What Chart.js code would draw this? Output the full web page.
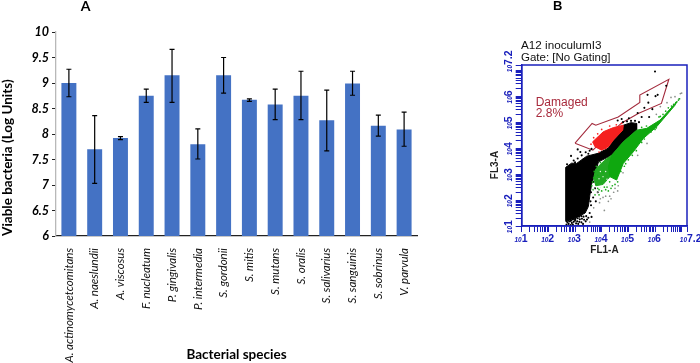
<!DOCTYPE html>
<html><head><meta charset="utf-8">
<style>html,body{margin:0;padding:0;background:#fff;width:700px;height:363px;overflow:hidden}
.wrap{position:absolute;top:0;height:363px}canvas{display:block}</style>
<script src="https://cdn.jsdelivr.net/npm/chart.js@4"></script></head>
<body>
<div class="wrap" style="left:0;width:440px"><canvas id="a" width="440" height="363"></canvas></div>
<div class="wrap" style="left:480px;width:220px"><canvas id="b" width="220" height="363"></canvas></div>
<script>
// Panel A
const species=['A. actinomycetcomitans','A. naeslundii','A. viscosus','F. nucleatum','P. gingivalis','P. intermedia','S. gordonii','S. mitis','S. mutans','S. oralis','S. salivarius','S. sanguinis','S. sobrinus','V. parvula'];
const viable=[9.0,7.7,7.92,8.75,9.15,7.8,9.15,8.67,8.58,8.75,8.27,8.99,8.16,8.09];
const errHigh=[9.27,8.36,7.95,8.88,9.66,8.1,9.5,8.69,8.88,9.23,8.86,9.23,8.37,8.43];
const errLow=[8.73,7.03,7.89,8.62,8.62,7.51,8.8,8.64,8.28,8.28,7.67,8.76,7.96,7.76];
// Panel B: all pairs are [log10 FL1-A, log10 FL3-A]
const gate=[[3.0,4.19],[3.64,4.95],[3.78,4.88],[4.62,5.2],[5.43,5.76],[5.43,6.04],[6.52,6.65],[6.24,5.72],[5.37,5.33],[4.75,4.97],[3.67,3.92],[3.0,4.19]];
const blackCloud=[[2.65,3.26],[2.87,3.42],[3.06,3.41],[3.44,3.69],[3.87,3.8],[4.25,4.0],[4.44,4.3],[4.79,4.7],[4.81,4.88],[5.1,4.98],[5.31,4.95],[5.31,4.69],[4.81,4.24],[4.38,3.73],[3.88,3.47],[3.75,3.03],[3.62,2.6],[3.56,2.2],[3.5,1.75],[3.38,1.5],[3.0,1.3],[2.65,1.2]];
const greenCloud=[[4.38,3.73],[4.81,4.24],[5.31,4.69],[5.69,4.76],[6.19,5.08],[6.81,5.78],[6.75,5.65],[6.06,4.82],[5.56,4.37],[5.19,3.86],[4.81,3.41],[4.56,2.77],[4.31,2.9],[4.25,3.28]];
const paleGreenCloud=[[3.78,3.2],[4.12,3.54],[4.38,3.73],[4.31,2.9],[4.05,2.6],[3.78,2.55],[3.7,2.85]];
const redCloud=[[3.66,4.24],[4.06,4.63],[4.44,4.79],[4.81,4.88],[4.79,4.69],[4.44,4.31],[4.25,4.05],[4.0,3.92],[3.75,4.05]];
const blackDots=[[2.7,3.38],[2.95,3.52],[3.1,3.6],[3.25,3.72],[3.4,3.84],[3.55,3.9],[3.3,3.55],[3.62,3.97],[3.0,3.45],[3.2,3.85],[3.5,3.78],[3.45,1.25],[3.55,1.5],[3.6,1.8],[3.68,2.1],[3.75,2.45],[3.82,2.8],[3.7,2.7],[3.6,2.3],[3.58,1.95],[3.62,1.35],[3.78,1.95],[3.85,2.3],[3.9,3.1],[3.95,2.95],[4.8,5.0],[4.95,5.03],[5.1,5.05],[5.25,5.05],[5.02,5.15],[4.6,5.06],[4.75,5.12],[5.4,5.0],[5.35,5.35],[5.6,5.55],[5.75,5.75],[5.9,5.5],[6.1,6.05],[5.72,6.05],[6.02,6.0],[5.78,5.2],[6.0,6.95],[6.42,6.4],[5.5,5.2],[3.1,3.95],[2.85,3.7],
[2.68,1.18],[2.72,1.14],[2.68,1.06],[2.75,1.2],[2.78,1.26],[2.8,1.18],[2.76,1.08],[2.85,1.22],[2.88,1.3],[2.84,1.2],[2.88,1.12],[2.84,1.04],[2.93,1.28],[2.92,1.25],[2.95,1.16],[2.92,1.06],[3.0,1.25],[3.02,1.28],[3.0,1.2],[3.04,1.1],[3.08,1.38],[3.1,1.3],[3.08,1.18],[3.12,1.08],[3.16,1.36],[3.18,1.26],[3.16,1.16],[3.24,1.38],[3.26,1.28],[3.24,1.14],[3.32,1.36],[3.34,1.24],[3.3,1.08],[3.42,1.38],[3.4,1.18],[3.5,1.32]];
const greenDots=[[3.7,2.85],[3.78,2.6],[3.85,2.95],[3.9,2.4],[3.72,3.1],[3.8,3.3],[3.95,3.45],[4.05,3.05],[4.1,2.5],[4.2,2.5],[4.3,2.7],[4.4,2.55],[4.5,2.6],[4.6,2.7],[3.68,2.4],[3.75,2.2],[3.9,2.2],[4.0,2.35],[4.15,2.4],[3.63,2.55],[3.66,2.7],[3.85,2.45],[4.25,2.35],[4.35,2.45],[6.82,5.78],[6.88,5.85],[6.92,5.9],[6.78,5.75],[6.7,5.68],[6.62,5.62],[6.5,5.55],[6.4,5.42],[6.3,5.3],[6.2,5.22],[6.15,5.2],[5.6,4.35],[5.85,4.62],[6.05,4.78],[5.3,3.9],[5.15,3.72],[4.85,3.3],[4.72,3.1],[5.5,4.22],[5.68,4.85],[5.5,4.8],[4.9,3.4],[5.0,3.55],[6.0,4.72]];
const paleDots=[[3.72,2.42],[3.82,2.3],[3.95,2.48],[4.08,2.38],[4.18,2.6],[4.3,2.55],[3.9,2.82],[4.05,2.9],[4.15,3.1],[3.95,3.1],[4.2,2.8]];
const redDots=[[3.6,4.15],[3.7,4.4],[3.85,4.55],[4.0,4.72],[4.3,4.85],[4.55,4.9],[4.75,4.95],[3.9,3.85],[4.15,3.98]];
const greyDots=[[3.55,1.15],[3.7,1.7],[3.92,1.9],[4.05,2.1],[4.15,2.15],[4.3,2.15],[4.45,2.3],[4.25,1.95],[4.5,2.45],[4.62,2.55],[4.8,3.05],[3.95,2.05],[4.6,2.35],[4.35,2.05],[6.6,5.95],[6.75,5.98],[6.95,6.1],[7.0,6.12],[6.2,5.6],[6.05,5.3],[6.45,5.75],[6.9,5.9],[5.35,3.72],[5.7,4.18],[4.1,1.6]];
const expDecades=[1,2,3,4,5,6];
const expSteps=[1,2,3,4,5,6,7,8,9];
const bTickTop=7.2;
const bTickExponents=['1','2','3','4','5','6','7.2'];

const toXY=a=>a.map(p=>({x:Math.pow(10,p[0]),y:Math.pow(10,p[1])}));

const errorBars={id:'errorBars',afterDatasetsDraw(c){
  const {ctx,scales:{x,y}}=c;ctx.save();ctx.strokeStyle='#000';ctx.lineWidth=1.2;
  species.forEach((s,i)=>{const px=x.getPixelForValue(i),h=y.getPixelForValue(errHigh[i]),l=y.getPixelForValue(errLow[i]);
    ctx.beginPath();ctx.moveTo(px,h);ctx.lineTo(px,l);ctx.moveTo(px-2.5,h);ctx.lineTo(px+2.5,h);ctx.moveTo(px-2.5,l);ctx.lineTo(px+2.5,l);ctx.stroke();});
  ctx.restore();}};
const label=(txt,x,y,font,color,rot,align)=>({txt,x,y,font,color:color||'#000',rot:rot||0,align:align||'left'});
const textPlugin=(items)=>({id:'texts',afterDraw(c){const ctx=c.ctx;
  items.forEach(t=>{ctx.save();ctx.textBaseline='middle';ctx.font=t.font;ctx.fillStyle=t.color;ctx.textAlign=t.align;ctx.translate(t.x,t.y);ctx.rotate(t.rot);ctx.fillText(t.txt,0,0);ctx.restore();});}});
const blue='#1a20bc';
const frame={id:'frame',afterDraw(c){const a=c.chartArea,ctx=c.ctx;ctx.save();ctx.strokeStyle=blue;ctx.lineWidth=1.5;ctx.strokeRect(a.left,a.top,a.right-a.left,a.bottom-a.top);ctx.restore();}};
const powerLabels={id:'powerLabels',afterDraw(c){const ctx=c.ctx,{x,y}=c.scales;ctx.save();ctx.fillStyle=blue;ctx.textBaseline='alphabetic';
  const one=(e)=>{ctx.font='italic bold 6.5px "Liberation Sans"';ctx.textAlign='right';ctx.fillText('10',0,0);ctx.font='bold 10.5px "Liberation Sans"';ctx.textAlign='left';ctx.fillText(e,0,0);};
  bTickExponents.forEach(e=>{const v=Math.pow(10,parseFloat(e));
    ctx.save();ctx.translate(x.getPixelForValue(v),241.5);one(e);ctx.restore();
    ctx.save();ctx.translate(32,y.getPixelForValue(v));ctx.rotate(-Math.PI/2);one(e);ctx.restore();});
  ctx.restore();}};

new Chart(document.getElementById('a'),{type:'bar',
 data:{labels:species,datasets:[{data:viable,backgroundColor:'#4472C4',borderWidth:0,barPercentage:0.58,categoryPercentage:1}]},
 plugins:[errorBars,textPlugin([label('A',85.5,6,'bold 14px Lato','#000',0,'center')])],
 options:{responsive:false,animation:false,
  layout:{padding:{left:0,right:23,top:32,bottom:0}},
  plugins:{legend:{display:false},tooltip:{enabled:false}},
  scales:{
   x:{afterFit:s=>{s.height=127},grid:{display:false},border:{color:'#222',width:1.3},
      ticks:{autoSkip:false,minRotation:90,maxRotation:90,padding:4,color:'#111',font:{family:'Lato',style:'italic',size:11.5}},
      title:{display:true,text:'Bacterial species',color:'#000',padding:0,font:{family:'Lato',weight:'bold',size:13.5}}},
   y:{min:6,max:10,afterFit:s=>{s.width=56},border:{color:'#b8b8b8',width:1.3},
      grid:{drawOnChartArea:false,tickLength:4,color:'#222'},
      ticks:{stepSize:0.5,padding:3,color:'#000',callback:v=>String(v),font:{family:'Lato',style:'italic',weight:'bold',size:12.5}},
      title:{display:true,text:'Viable bacteria (Log Units)',align:'start',color:'#000',padding:0,font:{family:'Lato',weight:'bold',size:13.5}}}
  }}});

const pts=(arr,color,order,r)=>({type:'scatter',data:toXY(arr),pointRadius:r||0.85,pointBorderWidth:0,pointBackgroundColor:color,order});
const poly=(arr,color,order)=>({type:'scatter',data:toXY(arr.concat([arr[0]])),showLine:true,fill:'shape',backgroundColor:color,borderColor:color,borderWidth:1,pointRadius:0,order});
const bTicks=[];expDecades.forEach(d=>expSteps.forEach(m=>bTicks.push(m*Math.pow(10,d))));bTicks.push(1e7,Math.pow(10,bTickTop));
const logAxis=(extra)=>Object.assign({type:'logarithmic',min:10,max:Math.pow(10,bTickTop),
  afterBuildTicks:s=>{s.ticks=bTicks.map(v=>({value:v}))},
  border:{color:blue,width:1.5},grid:{drawOnChartArea:false,tickLength:6,color:blue}},extra);
const noLabels={autoSkip:false,minRotation:0,maxRotation:0,callback:()=>''};

new Chart(document.getElementById('b'),{type:'scatter',
 data:{datasets:[
  {data:toXY(gate),showLine:true,fill:false,borderColor:'#a32a3c',borderWidth:1.1,pointRadius:0,order:9},
  poly(blackCloud,'#000',6),poly(paleGreenCloud,'#22a822',5),poly(greenCloud,'#0fa80f',3),poly(redCloud,'#f5201f',2),
  pts(greyDots,'#8a8f8a',8),pts(blackDots,'#000',7,1.05),pts(paleDots,'#e8f5e8',4,0.7),pts(greenDots,'#18a818',4),pts(redDots,'#f5201f',1)]},
 plugins:[frame,powerLabels,textPlugin([
  label('B',73,6,'bold 13px "Liberation Sans"'),
  label('A12 inoculumI3',41,46,'11.7px "Liberation Sans"','#111'),
  label('Gate: [No Gating]',41,58,'11.5px "Liberation Sans"','#111'),
  label('Damaged',55.7,103,'12px "Liberation Sans"','#a82a3c'),
  label('2.8%',55.7,114,'12px "Liberation Sans"','#a82a3c'),
  label('FL3-A',15,165,'bold 10px "Liberation Sans"','#222',-Math.PI/2,'center'),
  label('FL1-A',124.5,250,'bold 10px "Liberation Sans"','#222',0,'center')])],
 options:{responsive:false,animation:false,
  layout:{padding:{left:9,right:13,top:65,bottom:107}},
  plugins:{legend:{display:false},tooltip:{enabled:false}},
  scales:{
   x:logAxis({afterFit:s=>{s.height=30},ticks:noLabels}),
   y:logAxis({afterFit:s=>{s.width=32.7},ticks:noLabels})
  }}});
</script>
</body></html>
